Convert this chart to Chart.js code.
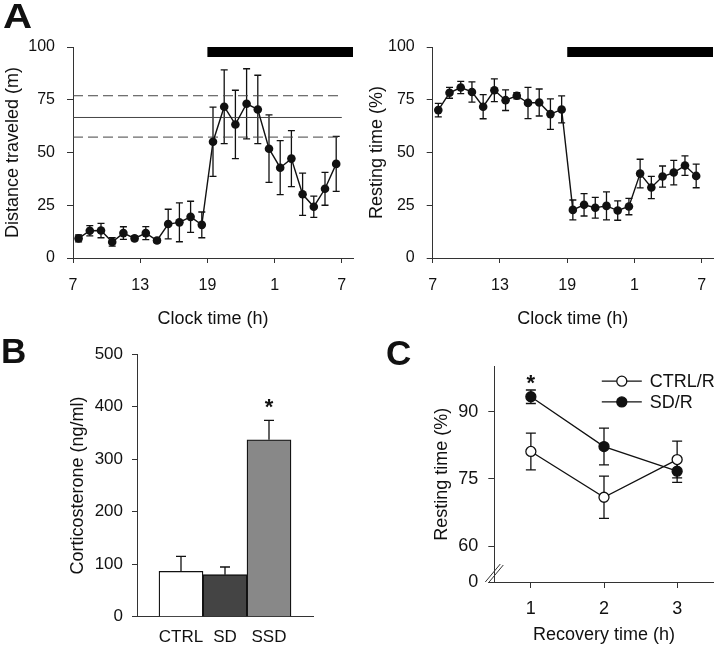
<!DOCTYPE html>
<html>
<head>
<meta charset="utf-8">
<script src="https://cdn.jsdelivr.net/npm/chart.js@4.4.1/dist/chart.umd.min.js"></script>
<style>
    html, body { margin: 0; padding: 0; background: #fff; }
    #fig { position: relative; width: 720px; height: 646px; overflow: hidden;
           font-family: "Liberation Sans", Arial, sans-serif; }
    #fig canvas { position: absolute; }
    .panel-tag { position: absolute; font-weight: bold; font-size: 35px; line-height: 1; color: #111; }
</style>
</head>
<body>
<div id="fig">
    <canvas id="chartDistance" width="360" height="335" style="left:0;top:0"></canvas>
    <canvas id="chartResting" width="360" height="335" style="left:360px;top:0"></canvas>
    <canvas id="chartCort" width="360" height="311" style="left:0;top:335px"></canvas>
    <canvas id="chartRecovery" width="360" height="311" style="left:360px;top:335px"></canvas>
    <div class="panel-tag" style="left:3px;top:-2px;transform:scaleX(1.15);transform-origin:left top">A</div>
    <div class="panel-tag" style="left:1px;top:333px">B</div>
    <div class="panel-tag" style="left:386px;top:335px">C</div>
</div>
<script>
// 面板 A：24 h 每小时均值（时钟 7 点起，横轴 25/31 即次日 1 点/7 点）
var HOURS = [7.5, 8.5, 9.5, 10.5, 11.5, 12.5, 13.5, 14.5, 15.5, 16.5, 17.5, 18.5,
             19.5, 20.5, 21.5, 22.5, 23.5, 24.5, 25.5, 26.5, 27.5, 28.5, 29.5, 30.5];
var HOUR_TICKS = [7, 13, 19, 25, 31];
var HOUR_TICK_LABELS = ["7", "13", "19", "1", "7"];
var NIGHT = [19, 32];

var DISTANCE = [9.3, 12.9, 13.0, 7.6, 11.8, 9.3, 11.8, 8.3, 16.1, 16.9, 19.5, 15.7,
                55.1, 71.7, 63.3, 73.1, 70.4, 51.8, 42.8, 47.1, 30.2, 24.3, 32.8, 44.6];
var DISTANCE_ERR = [1.7, 2.4, 3.4, 2.0, 3.0, 1.0, 3.1, 1.0, 7.0, 9.2, 7.4, 6.1,
                    16.4, 17.5, 16.2, 16.6, 16.2, 16.0, 12.8, 13.3, 10.0, 5.0, 7.8, 13.0];
// 参考带：均值（实线）与上下界（虚线）
var DISTANCE_BAND = [66.6, 76.9, 57.3];
var BAND_SPAN = [7, 31];

var RESTING = [70.1, 78.3, 80.8, 78.7, 71.7, 79.5, 74.8, 76.9, 73.5, 73.7, 68.2, 70.4,
               22.8, 25.2, 23.8, 24.7, 22.5, 24.4, 40.0, 33.4, 38.6, 40.5, 43.8, 38.9];
var RESTING_ERR = [3.2, 2.6, 2.9, 4.8, 5.7, 5.4, 4.9, 1.5, 7.4, 6.4, 7.2, 6.4,
                   4.7, 5.3, 4.9, 6.6, 4.6, 3.9, 6.8, 5.3, 5.0, 5.8, 4.6, 5.6];

// 面板 B：皮质酮
var GROUPS = ["CTRL", "SD", "SSD"];
var GROUP_POS = [1, 2, 3];
var CORT = [86.5, 80, 337];
var CORT_ERR = [28.5, 14.7, 37];
var CORT_SIG = [false, false, true];

// 面板 C：恢复期静息时间
var RECOVERY_H = [1, 2, 3];
var CTRL_R = [81.1, 70.9, 79.3];
var CTRL_R_ERR = [4.1, 4.7, 4.1];
var SD_R = [93.3, 82.2, 76.7];
var SD_R_ERR = [1.5, 4.1, 2.5];
var SD_R_SIG = [true, false, false];
var C_AXIS_FLOOR = 52;   // 断轴：该位置标为 0
var C_TICKS = [C_AXIS_FLOOR, 60, 75, 90];

(function () {
    "use strict";

    var AXIS = "#333";
    var INK = "#111";
    var FONT = '"Liberation Sans", Arial, sans-serif';

    Chart.defaults.font.family = FONT;
    Chart.defaults.color = INK;
    Chart.defaults.animation = false;

    function fixedSize(prop, px) {
        return function (scale) { scale[prop] = px; };
    }

    function pinTicks(values) {
        return function (scale) {
            scale.ticks = values.map(function (v) { return { value: v }; });
        };
    }

    function xy(xs, ys) {
        return xs.map(function (x, i) { return { x: x, y: ys[i] }; });
    }

    function axis(opts) {
        return {
            type: "linear",
            min: opts.min,
            max: opts.max,
            offset: false,
            afterBuildTicks: opts.ticks ? pinTicks(opts.ticks) : undefined,
            afterFit: fixedSize(opts.sizeProp, opts.size),
            ticks: {
                stepSize: opts.step,
                autoSkip: false,
                maxRotation: 0,
                padding: opts.pad,
                font: { size: opts.font },
                callback: opts.label
            },
            grid: {
                display: true,
                offset: false,
                drawOnChartArea: false,
                tickLength: opts.tickLen || 5,
                color: AXIS,
                tickColor: opts.hideTicks ? "rgba(0,0,0,0)" : AXIS
            },
            border: { display: true, color: AXIS, width: 1 },
            title: {
                display: !!opts.title,
                text: opts.title,
                font: { size: 18 },
                padding: opts.titlePad
            }
        };
    }

    // 误差线：数据集上挂 errors 数组，errorUpOnly 只画上半
    function drawErrorBars(chart, opts) {
        var ctx = chart.ctx;
        chart.data.datasets.forEach(function (ds, i) {
            if (!ds.errors) return;
            var meta = chart.getDatasetMeta(i);
            var yScale = chart.scales[meta.yAxisID];
            ctx.save();
            ctx.strokeStyle = INK;
            ctx.lineWidth = opts.lineWidth || 1.3;
            meta.data.forEach(function (el, j) {
                var v = ds.data[j].y;
                var e = ds.errors[j];
                var top = yScale.getPixelForValue(v + e);
                var bot = ds.errorUpOnly ? yScale.getPixelForValue(v) : yScale.getPixelForValue(v - e);
                var x = el.x;
                var w = opts.cap || 3.5;
                ctx.beginPath();
                ctx.moveTo(x, top); ctx.lineTo(x, bot);
                ctx.moveTo(x - w, top); ctx.lineTo(x + w, top);
                if (!ds.errorUpOnly) { ctx.moveTo(x - w, bot); ctx.lineTo(x + w, bot); }
                ctx.stroke();
            });
            ctx.restore();
        });
    }

    var errorBarPlugin = {
        id: "errorBars",
        beforeDatasetsDraw: function (chart, args, opts) {
            if (opts.drawTime !== "after") drawErrorBars(chart, opts);
        },
        afterDatasetsDraw: function (chart, args, opts) {
            if (opts.drawTime === "after") drawErrorBars(chart, opts);
        }
    };

    // 显著性星号：数据集 sig 数组
    var starPlugin = {
        id: "sigStars",
        afterDatasetsDraw: function (chart, args, opts) {
            var ctx = chart.ctx;
            chart.data.datasets.forEach(function (ds, i) {
                if (!ds.sig) return;
                var meta = chart.getDatasetMeta(i);
                var yScale = chart.scales[meta.yAxisID];
                meta.data.forEach(function (el, j) {
                    if (!ds.sig[j]) return;
                    var y = yScale.getPixelForValue(ds.data[j].y + ds.errors[j]) - opts.gap;
                    ctx.save();
                    ctx.fillStyle = INK;
                    ctx.font = "bold 22px " + FONT;
                    ctx.textAlign = "center";
                    ctx.textBaseline = "alphabetic";
                    ctx.fillText("*", el.x, y);
                    ctx.restore();
                });
            });
        }
    };

    // 暗期黑条
    var nightBarPlugin = {
        id: "nightBar",
        afterDatasetsDraw: function (chart, args, opts) {
            var x = chart.scales.x, y = chart.scales.y, ctx = chart.ctx;
            var left = x.getPixelForValue(NIGHT[0]);
            var right = x.getPixelForValue(NIGHT[1]);
            var top = y.getPixelForValue(y.max);
            ctx.save();
            ctx.fillStyle = "#000";
            ctx.fillRect(left, top, right - left, opts.thickness || 10);
            ctx.restore();
        }
    };

    // 面板 C：断轴标记 + 自绘图例
    var recoveryExtras = {
        id: "recoveryExtras",
        afterDraw: function (chart) {
            var ctx = chart.ctx, ca = chart.chartArea;
            var L = ca.left, B = ca.bottom;
            ctx.save();
            ctx.strokeStyle = AXIS;
            ctx.lineWidth = 1;
            ctx.beginPath();
            ctx.moveTo(L - 9, B); ctx.lineTo(L + 6, B - 18);
            ctx.moveTo(L - 6, B + 1); ctx.lineTo(L + 9, B - 17);
            ctx.stroke();

            var items = chart.data.datasets;
            items.forEach(function (ds, k) {
                var y = ca.top + 14.5 + k * 20.7;
                var x0 = L + 107.5, x1 = L + 147.5, xm = (x0 + x1) / 2;
                ctx.strokeStyle = INK;
                ctx.lineWidth = 1.3;
                ctx.beginPath();
                ctx.moveTo(x0, y); ctx.lineTo(x1, y);
                ctx.stroke();
                ctx.beginPath();
                ctx.arc(xm, y, ds.pointRadius, 0, Math.PI * 2);
                ctx.fillStyle = ds.pointBackgroundColor;
                ctx.fill();
                ctx.lineWidth = ds.pointBorderWidth;
                ctx.strokeStyle = ds.pointBorderColor;
                ctx.stroke();
                ctx.fillStyle = INK;
                ctx.font = "18px " + FONT;
                ctx.textAlign = "left";
                ctx.textBaseline = "middle";
                ctx.fillText(ds.label, L + 155.5, y + 1);
            });
            ctx.restore();
        }
    };

    function hourSeries(values, errors) {
        return {
            data: xy(HOURS, values),
            errors: errors,
            borderColor: INK,
            borderWidth: 1.4,
            pointRadius: 4.3,
            pointBackgroundColor: INK,
            pointBorderColor: INK,
            pointBorderWidth: 0,
            tension: 0
        };
    }

    function bandLine(value, dash) {
        return {
            data: xy(BAND_SPAN, [value, value]),
            borderColor: "#444",
            borderWidth: 1,
            borderDash: dash,
            pointRadius: 0
        };
    }

    function hourChart(canvasId, datasets, yTitle, yTitlePad, yWidth) {
        return new Chart(document.getElementById(canvasId), {
            type: "line",
            data: { datasets: datasets },
            options: {
                responsive: false,
                events: [],
                layout: { padding: { left: 0, top: 47, right: 7, bottom: 0 } },
                plugins: {
                    legend: { display: false },
                    tooltip: { enabled: false },
                    errorBars: { cap: 3.5, lineWidth: 1.3 },
                    nightBar: { thickness: 10 }
                },
                scales: {
                    x: axis({
                        min: 7, max: 32, ticks: HOUR_TICKS, sizeProp: "height", size: 77,
                        pad: 13, font: 16, tickLen: 5,
                        label: function (v, i) { return HOUR_TICK_LABELS[i]; },
                        title: "Clock time (h)", titlePad: { top: 0, bottom: 5 }
                    }),
                    y: axis({
                        min: 0, max: 100, step: 25, sizeProp: "width", size: yWidth,
                        pad: 12, font: 16, tickLen: 6,
                        title: yTitle, titlePad: { top: yTitlePad, bottom: 0 }
                    })
                }
            },
            plugins: [errorBarPlugin, nightBarPlugin]
        });
    }

    function init() {
        hourChart("chartDistance", [
            hourSeries(DISTANCE, DISTANCE_ERR),
            bandLine(DISTANCE_BAND[0], []),
            bandLine(DISTANCE_BAND[1], [10, 5]),
            bandLine(DISTANCE_BAND[2], [10, 5])
        ], "Distance traveled (m)", 2, 73);

        hourChart("chartResting", [
            hourSeries(RESTING, RESTING_ERR)
        ], "Resting time (%)", 6, 72.7);

        new Chart(document.getElementById("chartCort"), {
            type: "bar",
            data: {
                datasets: [{
                    data: xy(GROUP_POS, CORT),
                    errors: CORT_ERR,
                    errorUpOnly: true,
                    sig: CORT_SIG,
                    backgroundColor: ["#ffffff", "#444444", "#888888"],
                    borderColor: INK,
                    borderWidth: 1.3,
                    barPercentage: 1,
                    categoryPercentage: 1
                }]
            },
            options: {
                responsive: false,
                events: [],
                layout: { padding: { left: 0, top: 17.7, right: 47, bottom: 0 } },
                plugins: {
                    legend: { display: false },
                    tooltip: { enabled: false },
                    errorBars: { drawTime: "after", cap: 5, lineWidth: 1.3 },
                    sigStars: { gap: 6 }
                },
                scales: {
                    x: axis({
                        min: 0, max: 4, ticks: GROUP_POS, sizeProp: "height", size: 29.3,
                        pad: 5, font: 17, hideTicks: true,
                        label: function (v, i) { return GROUPS[i]; }
                    }),
                    y: axis({
                        min: 0, max: 500, step: 100, sizeProp: "width", size: 137,
                        pad: 9, font: 17, tickLen: 5,
                        title: "Corticosterone (ng/ml)", titlePad: { top: 67, bottom: 0 }
                    })
                }
            },
            plugins: [errorBarPlugin, starPlugin]
        });

        new Chart(document.getElementById("chartRecovery"), {
            type: "line",
            data: {
                datasets: [{
                    label: "CTRL/R",
                    data: xy(RECOVERY_H, CTRL_R),
                    errors: CTRL_R_ERR,
                    borderColor: INK,
                    borderWidth: 1.3,
                    pointRadius: 5,
                    pointBackgroundColor: "#fff",
                    pointBorderColor: INK,
                    pointBorderWidth: 1.3
                }, {
                    label: "SD/R",
                    data: xy(RECOVERY_H, SD_R),
                    errors: SD_R_ERR,
                    sig: SD_R_SIG,
                    borderColor: INK,
                    borderWidth: 1.3,
                    pointRadius: 5,
                    pointBackgroundColor: INK,
                    pointBorderColor: INK,
                    pointBorderWidth: 1.3
                }]
            },
            options: {
                responsive: false,
                events: [],
                layout: { padding: { left: 0, top: 31.7, right: 1, bottom: 0 } },
                plugins: {
                    legend: { display: false },
                    tooltip: { enabled: false },
                    errorBars: { cap: 5, lineWidth: 1.3 },
                    sigStars: { gap: 0 }
                },
                scales: {
                    x: axis({
                        min: 0.5, max: 3.5, ticks: RECOVERY_H, sizeProp: "height", size: 64,
                        pad: 10, font: 18, tickLen: 6,
                        title: "Recovery time (h)", titlePad: { top: 0, bottom: 0 }
                    }),
                    y: axis({
                        min: C_AXIS_FLOOR, max: 100, ticks: C_TICKS, sizeProp: "width", size: 134.3,
                        pad: 10, font: 18, tickLen: 6,
                        label: function (v) { return v === C_AXIS_FLOOR ? "0" : String(v); },
                        title: "Resting time (%)", titlePad: { top: 71, bottom: 0 }
                    })
                }
            },
            plugins: [errorBarPlugin, starPlugin, recoveryExtras]
        });
    }

    if (document.readyState === "loading") {
        document.addEventListener("DOMContentLoaded", init);
    } else {
        init();
    }
})();
</script>
</body>
</html>
